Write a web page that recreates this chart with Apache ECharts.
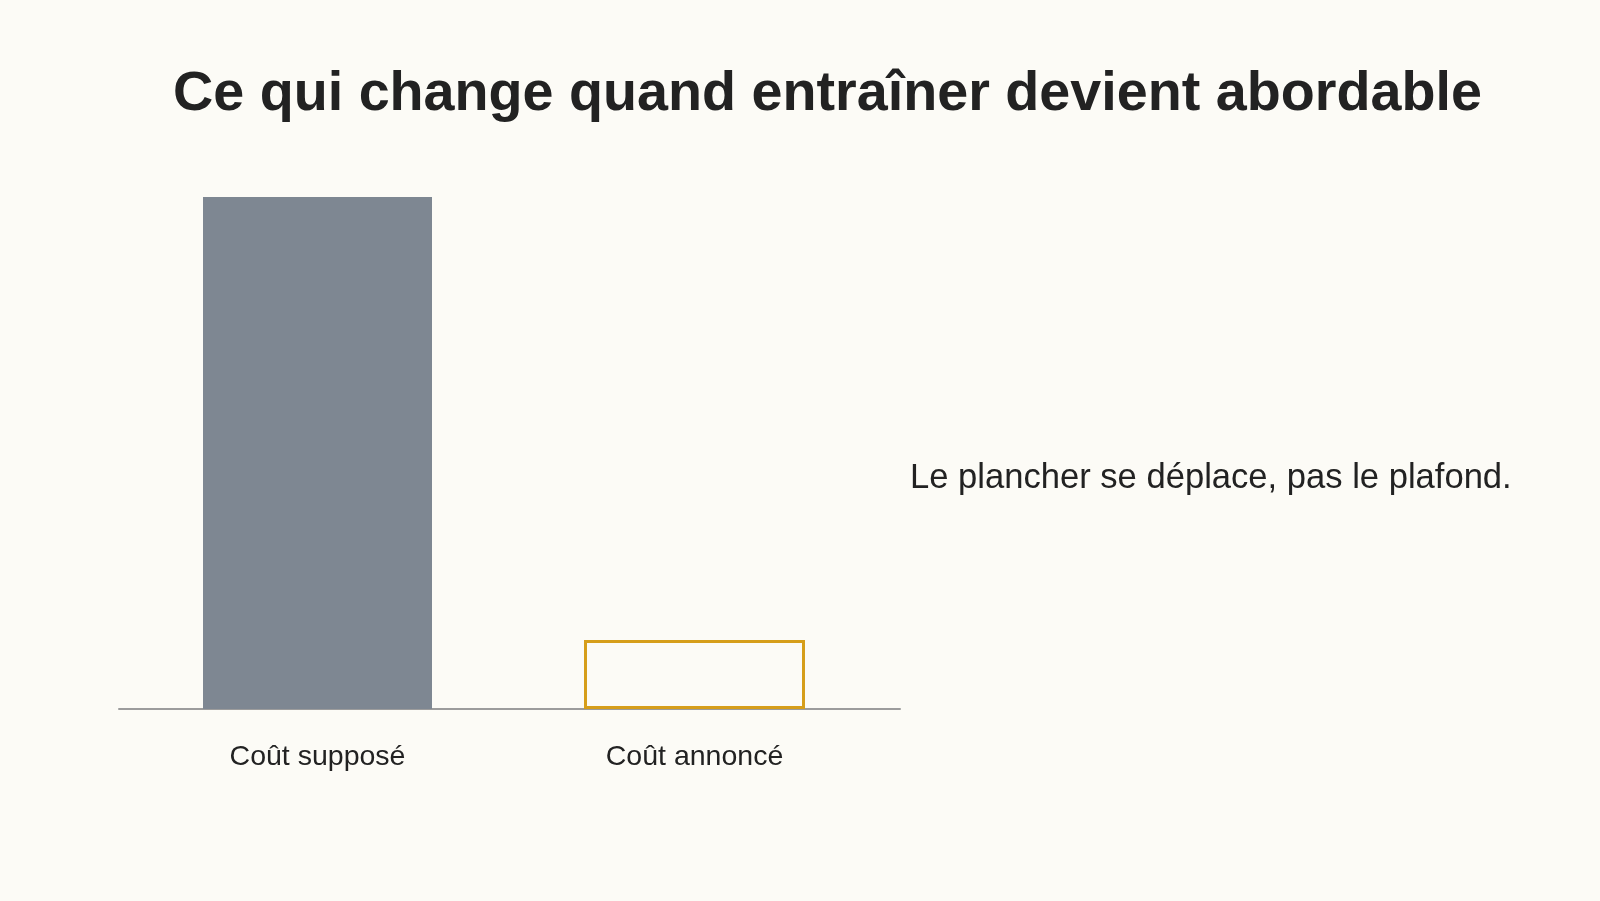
<!DOCTYPE html>
<html>
<head>
<meta charset="utf-8">
<script src="https://cdn.jsdelivr.net/npm/echarts@6/dist/echarts.min.js"></script>
<style>
html,body{margin:0;padding:0;background:#FCFBF6;}
#c{width:1600px;height:901px;}
</style>
</head>
<body>
<div id="c"></div>
<script>
const titleText = 'Ce qui change quand entraîner devient abordable';
const noteText = 'Le plancher se déplace, pas le plafond.';
const categories = ['Coût supposé', 'Coût annoncé'];
const supposedValues = [100, '-'];
const announcedValues = ['-', 13.5];

const chart = echarts.init(document.getElementById('c'));
const font = '"Liberation Sans", Arial, sans-serif';
chart.setOption({
  backgroundColor: '#FCFBF6',
  animation: false,
  title: [
    {text: titleText, left: 173, top: 67, padding: 0,
     textStyle: {fontFamily: font, fontSize: 55.7, fontWeight: 'bold', color: '#222222'}},
    {text: noteText, left: 910, top: 461, padding: 0,
     textStyle: {fontFamily: font, fontSize: 34.6, fontWeight: 'normal', color: '#222222'}}
  ],
  grid: [
    {left: 129, right: 717, top: 197, bottom: 192},
    {left: 119, right: 700, top: 197, bottom: 192}
  ],
  xAxis: [
    {type: 'category', gridIndex: 0, data: categories,
     axisLine: {show: false}, axisTick: {show: false},
     axisLabel: {fontFamily: font, fontSize: 28.5, color: '#222222', margin: 34}},
    {type: 'category', gridIndex: 0, data: categories, show: false},
    {type: 'value', gridIndex: 1, min: 0, max: 1,
     axisLine: {show: true, lineStyle: {color: '#9C9C9C', width: 2}},
     axisTick: {show: false}, axisLabel: {show: false}, splitLine: {show: false}}
  ],
  yAxis: [
    {type: 'value', gridIndex: 0, min: 0, max: 100, show: false, splitLine: {show: false}},
    {type: 'value', gridIndex: 1, min: 0, max: 1, show: false, splitLine: {show: false}}
  ],
  series: [
    {type: 'bar', xAxisIndex: 0, yAxisIndex: 0, data: supposedValues, barWidth: 229,
     itemStyle: {color: '#7E8792'}, z: 2},
    {type: 'bar', xAxisIndex: 1, yAxisIndex: 0, data: announcedValues, barWidth: 221,
     itemStyle: {color: 'rgba(0,0,0,0)', borderColor: '#D69E1A', borderWidth: 3}, z: 3}
  ]
});
</script>
</body>
</html>
